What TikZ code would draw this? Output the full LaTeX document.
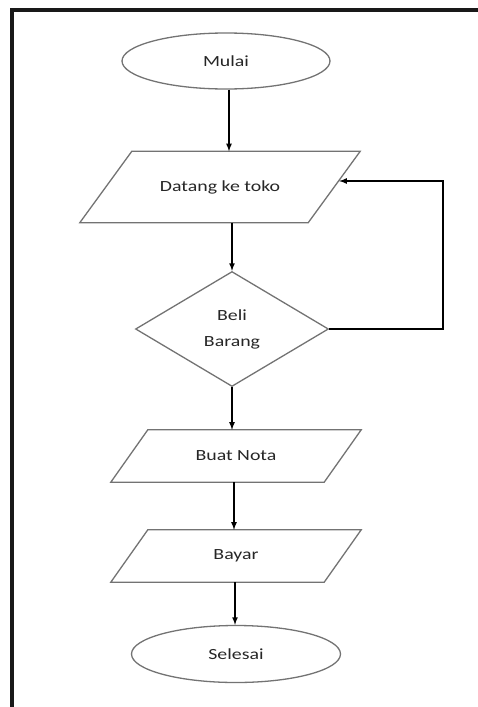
\documentclass[tikz,border=0pt]{standalone}
\usepackage{fontspec}
\setmainfont{Carlito}[FakeStretch=1.28]
\usepackage{tikz}
\usetikzlibrary{shapes,arrows,positioning}
\tikzstyle{garis} = [draw=black!55, line width=1.3pt]
\tikzstyle{terminal} = [garis, ellipse, minimum width=208pt, minimum height=56pt, inner sep=0pt, text=black!85]
\tikzstyle{proses} = [rectangle, inner sep=0pt, text=black!85]
\tikzstyle{keputusan} = [garis, diamond, minimum width=193pt, minimum height=115pt, inner sep=0pt, align=center, text=black!85]
\tikzstyle{panah} = [draw=black, line width=1.6pt, -latex]
\tikzstyle{bingkai} = [draw=black!90, line width=4.5pt]
% jajaran genjang di sekitar node #1, geser #2
\newcommand{\jajar}[2]{\draw[garis] ([xshift=#2]#1.north west) -- ([xshift=#2]#1.north east) -- ([xshift=-#2]#1.south east) -- ([xshift=-#2]#1.south west) -- cycle;}

\begin{document}
\begin{tikzpicture}[x=1pt, y=-1pt, font=\fontsize{15.5}{26}\selectfont]
	\useasboundingbox (0,0) rectangle (478,707);
	% bingkai
	\draw[bingkai] (478,10) -- (12,10) -- (12,707);
	% simbol
	\node[terminal] (mulai) at (226,61) {Mulai};
	\node[proses, minimum width=228pt, minimum height=71pt] (datang) at (220,187) {Datang ke toko};
	\jajar{datang}{26pt}
	\node[keputusan] (beli) at (232,329) {Beli\\Barang};
	\node[proses, minimum width=213pt, minimum height=52pt] (nota) at (236,456) {Buat Nota};
	\jajar{nota}{18.5pt}
	\node[proses, minimum width=213pt, minimum height=52pt] (bayar) at (236,556) {Bayar};
	\jajar{bayar}{18.5pt}
	\node[terminal, minimum width=209pt, minimum height=57pt] (selesai) at (236,654) {Selesai};
	\coordinate (balik) at (443,181);
	% panah
	\draw[panah] (mulai.south -| 229,0) -- (datang.north -| 229,0);
	\draw[panah] (datang.south -| beli.north) -- (beli.north);
	\draw[panah] (beli.south) -- (beli.south |- nota.north);
	\draw[panah] (nota.south -| 234,0) -- (bayar.north -| 234,0);
	\draw[panah] (bayar.south -| 235,0) -- (selesai.north -| 235,0);
	\draw[panah] (beli.east) -| (balik) -- ([xshift=5pt]balik -| datang.east);
\end{tikzpicture}
\end{document}
